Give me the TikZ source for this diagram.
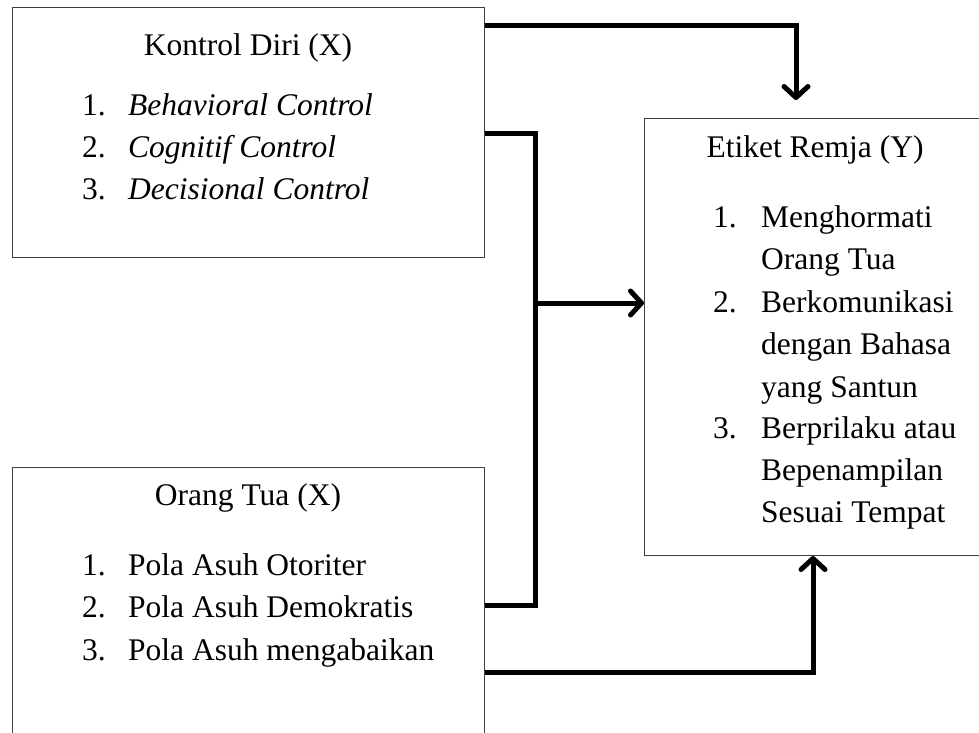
\documentclass[tikz,border=0pt]{standalone}
\usepackage{fontspec}
\setmainfont{Liberation Serif}
\usetikzlibrary{arrows.meta}
\begin{document}
\begin{tikzpicture}[x=1pt,y=-1pt,
  box/.style={draw=black!75, line width=1pt, inner sep=0pt, anchor=north west},
  txt/.style={inner sep=0pt, anchor=base west, font=\fontsize{31.5}{42}\selectfont},
  ttl/.style={inner sep=0pt, anchor=base, font=\fontsize{31.5}{42}\selectfont},
  conn/.style={line width=5pt, line join=miter, draw=black},
  tip/.style={-{Straight Barb[length=11pt,width=24pt,line cap=round,line join=round]}}]
\useasboundingbox (0,0) rectangle (979,732);
\clip (0,0) rectangle (979,732);
% boxes
\node[box, minimum width=472pt, minimum height=250pt] (k) at (12,7) {};
\node[box, minimum width=472pt, minimum height=290pt] (o) at (12,467) {};
\node[box, minimum width=345pt, minimum height=437pt] (e) at (644,118) {};
% box 1 text
\node[ttl] (kt) at (248,55) {Kontrol Diri (X)};
\node[txt] (kn1) at (82,115) {1.};
\node[txt] (ki1) at (128,115) {\itshape Behavioral Control};
\node[txt] (kn2) at (82,157) {2.};
\node[txt] (ki2) at (128,157) {\itshape Cognitif Control};
\node[txt] (kn3) at (82,199) {3.};
\node[txt] (ki3) at (128,199) {\itshape Decisional Control};
% box 2 text
\node[ttl] (ot) at (248,505) {Orang Tua (X)};
\node[txt] (on1) at (82,575) {1.};
\node[txt] (oi1) at (128,575) {Pola Asuh Otoriter};
\node[txt] (on2) at (82,617) {2.};
\node[txt] (oi2) at (128,617) {Pola Asuh Demokratis};
\node[txt] (on3) at (82,660) {3.};
\node[txt] (oi3) at (128,660) {Pola Asuh mengabaikan};
% box 3 text
\node[ttl] (et) at (815,157) {Etiket Remja (Y)};
\node[txt] (en1) at (713,227) {1.};
\node[txt] (ei1a) at (761,227) {Menghormati};
\node[txt] (ei1b) at (761,269) {Orang Tua};
\node[txt] (en2) at (713,312) {2.};
\node[txt] (ei2a) at (761,312) {Berkomunikasi};
\node[txt] (ei2b) at (761,354) {dengan Bahasa};
\node[txt] (ei2c) at (761,397) {yang Santun};
\node[txt] (en3) at (713,438) {3.};
\node[txt] (ei3a) at (761,438) {Berprilaku atau};
\node[txt] (ei3b) at (761,480) {Bepenampilan};
\node[txt] (ei3c) at (761,522) {Sesuai Tempat};
% connector points
\coordinate (k1) at (k.north east |- 0,25);
\coordinate (t1) at (796,100);
\coordinate (k2) at (k.north east |- 0,133);
\coordinate (jt) at (535,133);
\coordinate (jm) at (535,303);
\coordinate (jb) at (535,605);
\coordinate (o2) at (o.north east |- 0,605);
\coordinate (o3) at (o.north east |- 0,672);
\coordinate (t3) at (e.south west -| 813,0);
% connectors
\draw[conn, tip] (k1) -| (t1);
\draw[conn] (k2) -- (jt) -- (jb) -- (o2);
\draw[conn, tip] (jm) -- (e.west |- jm);
\draw[conn, tip] (o3) -| (t3);
\end{tikzpicture}
\end{document}
